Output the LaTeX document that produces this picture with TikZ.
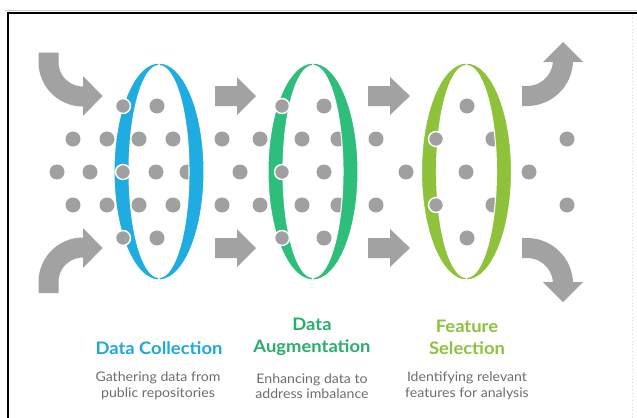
\documentclass[tikz,border=0pt]{standalone}
\usepackage{fontspec}
\setmainfont{Lato}
\newfontfamily\widelato[FakeStretch=1.07]{Lato}
\definecolor{ringblue}{HTML}{1FACE0}
\definecolor{ringgreen}{HTML}{2EBE7B}
\definecolor{ringlime}{HTML}{8DC23A}
\definecolor{tblue}{HTML}{1DA8DE}
\definecolor{tgreen}{HTML}{2AAE6C}
\definecolor{tlime}{HTML}{8CC23C}
\definecolor{dotgray}{HTML}{A0A0A0}
\definecolor{arrowgray}{HTML}{A2A2A2}
\definecolor{desctext}{HTML}{6E6E6E}
\tikzset{
  dotmark/.style={fill=dotgray},
  dotring/.style={fill=dotgray, draw=white, line width=1.1pt},
  crescent/.style={draw=white, line width=0.8pt},
  shaftline/.style={draw=arrowgray, line width=15pt},
  arrowhead/.style={fill=arrowgray},
  titletext/.style={font=\widelato\fontsize{12.9}{16.5}\selectfont\bfseries, align=center, inner sep=0pt},
  desctextstyle/.style={font=\widelato\fontsize{9.9}{11.6}\selectfont, text=desctext, align=center, inner sep=0pt}
}
\begin{document}
\begin{tikzpicture}[x=0.75pt,y=-0.75pt]
\useasboundingbox (0,0) rectangle (637,418);
\fill[white] (0,0) rectangle (637,418);
% frame
\draw[black!20, line width=0.6pt] (5,10) -- (637,10);
\draw[black, line width=1.9pt] (8,12.8) -- (637,12.8);
\draw[black, line width=1.9pt] (8,11.9) -- (8,418);
\draw[black!15, line width=0.6pt, dotted] (632,15) -- (632,418);

% plain dots
\foreach \x in {157,324,467} \fill[dotmark] (\x,106) circle[radius=7.5];
\foreach \x in {157,324,467} \fill[dotmark] (\x,238) circle[radius=7.5];
\foreach \x in {73,107,139,173,222,260,302,338,376,493,567} {
  \fill[dotmark] (\x,139) circle[radius=7.5];
  \fill[dotmark] (\x,205) circle[radius=7.5];
}
\foreach \x in {57,90,156,187,240,324,406,466,529} \fill[dotmark] (\x,172) circle[radius=7.5];

% rings (left and right crescents)
\foreach \c/\col in {159/ringblue, 313/ringgreen, 466.5/ringlime} {
  \path[crescent, fill=\col] (\c,63) arc[start angle=270, end angle=90, x radius=45, y radius=108.5]
     -- (\c,277.5) arc[start angle=90, end angle=270, x radius=30, y radius=106] -- cycle;
  \path[crescent, fill=\col] (\c,63) arc[start angle=-90, end angle=90, x radius=45, y radius=108.5]
     -- (\c,277.5) arc[start angle=90, end angle=-90, x radius=30, y radius=106] -- cycle;
}

% dots lying on the front band
\foreach \x/\y in {123/106, 123/172, 123/238, 282/106, 282/172, 282/238, 436/139, 436/205}
  \filldraw[dotring] (\x,\y) circle[radius=7.5];

% left curved arrows
\draw[shaftline] (48.5,52.5) -- (48.5,62) arc[start angle=180, end angle=90, radius=34.5] -- (84,96.5);
\fill[arrowhead] (83,76) -- (102.5,96) -- (83,116) -- cycle;
\draw[shaftline] (48.5,293) -- (48.5,282) arc[start angle=180, end angle=270, radius=34.5] -- (84,247.5);
\fill[arrowhead] (83,228) -- (102.5,248) -- (83,268) -- cycle;

% straight arrows
\foreach \s/\b/\t in {215/237/256, 368/390/410} {
  \fill[arrowhead] (\s,86) -- (\b,86) -- (\b,77) -- (\t,96) -- (\b,115) -- (\b,106) -- (\s,106) -- cycle;
  \fill[arrowhead] (\s,238) -- (\b,238) -- (\b,229) -- (\t,248) -- (\b,267) -- (\b,258) -- (\s,258) -- cycle;
}

% right curved arrows
\draw[shaftline] (522,96) -- (527,96) arc[start angle=90, end angle=0, radius=36] -- (563,61);
\fill[arrowhead] (543,62) -- (563,42) -- (583,62) -- cycle;
\draw[shaftline] (522,248) -- (527,248) arc[start angle=270, end angle=360, radius=36] -- (563,283);
\fill[arrowhead] (543,282) -- (563,302) -- (583,282) -- cycle;

% texts
\node[titletext, text=tblue] (t1) at (159,348) {Data Collection};
\node[titletext, text=tgreen] (t2) at (312,337) {Data\\Augmentation};
\node[titletext, text=tlime] (t3) at (467,337) {Feature\\Selection};
\node[desctextstyle] (d1) at (158,386) {Gathering data from\\public repositories};
\node[desctextstyle] (d2) at (312,386) {Enhancing data to\\address imbalance};
\node[desctextstyle] (d3) at (467,386) {Identifying relevant\\features for analysis};
\end{tikzpicture}
\end{document}
